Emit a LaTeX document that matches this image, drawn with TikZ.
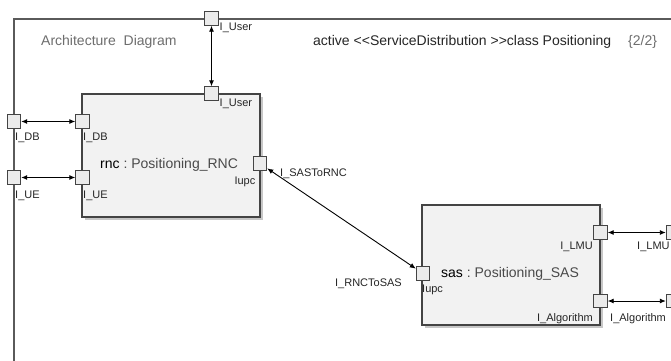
\documentclass[tikz,border=0pt]{standalone}
\usepackage{fontspec}
\setmainfont{Liberation Sans}[Ligatures=NoCommon]
\usetikzlibrary{arrows.meta,shadows}
\definecolor{framecol}{HTML}{5A5A5A}
\definecolor{boxfill}{HTML}{F2F2F2}
\definecolor{portfill}{HTML}{EBEBEB}
\definecolor{boxline}{HTML}{444444}
\definecolor{titlegray}{HTML}{6E6E6E}
\definecolor{typegray}{HTML}{4A4A4A}
\begin{document}
\begin{tikzpicture}[x=1pt,y=-1pt,
  framepath/.style={draw=framecol,line width=1.2pt},
  block/.style={draw=boxline,fill=boxfill,line width=1.1pt,inner sep=0pt,
    general shadow={fill=black!22,shadow xshift=2.5pt,shadow yshift=-2.5pt}},
  port/.style={draw=boxline,fill=portfill,line width=0.9pt,minimum size=13.5pt,inner sep=0pt},
  plabel/.style={font=\fontsize{11}{12}\selectfont,text=black!85,inner sep=0pt},
  bigtext/.style={font=\fontsize{14}{16}\selectfont,inner sep=0pt},
  conn/.style={draw=black,line width=0.9pt,{Latex[length=6pt,width=5pt]}-{Latex[length=6pt,width=5pt]}}
]
\useasboundingbox (0,0) rectangle (671,360);
\clip (0,0) rectangle (671,360);
\fill[white] (0,0) rectangle (671,360);
% frame
\draw[framepath] (14,400) -- (14,19) -- (700,19);
% titles
\node[bigtext,text=titlegray,anchor=base west] (title) at (41,45) {Architecture\ \ Diagram};
\node[bigtext,text=black!85,anchor=base west] (head) at (313,45) {active {<}{<}ServiceDistribution {>}{>}class Positioning};
\node[bigtext,text=titlegray,anchor=base west] (page) at (628,45) {\{2/2\}};
% blocks
\node[block,minimum width=178pt,minimum height=123pt] (rnc) at (171,155.5) {};
\node[block,minimum width=178pt,minimum height=120pt] (sas) at (511,265) {};
\node[bigtext,anchor=base west] (rnclabel) at (100,168) {\textcolor{black}{rnc}\ \textcolor{typegray}{:\ Positioning\_RNC}};
\node[bigtext,anchor=base west] (saslabel) at (441,277) {\textcolor{black}{sas}\ \textcolor{typegray}{:\ Positioning\_SAS}};
% frame ports
\node[port] (fUser) at (211.5,18.5) {};
\node[port] (fDB) at (14,121.5) {};
\node[port] (fUE) at (14,177.5) {};
\node[port] (fLMU) at (673,232.5) {};
\node[port] (fAlg) at (673,301) {};
% rnc ports
\node[port] (rUser) at (211.5,93.5) {};
\node[port] (rDB) at (82.5,121.5) {};
\node[port] (rUE) at (82.5,177.5) {};
\node[port] (rIupc) at (260,163.5) {};
% sas ports
\node[port] (sIupc) at (423,273.5) {};
\node[port] (sLMU) at (600.5,232.5) {};
\node[port] (sAlg) at (600.5,301) {};
% connectors
\draw[conn] (fUser) -- (rUser);
\draw[conn] (fDB) -- (rDB);
\draw[conn] (fUE) -- (rUE);
\draw[conn] (rIupc) -- (sIupc);
\draw[conn] (sLMU) -- (fLMU);
\draw[conn] (sAlg) -- (fAlg);
% port labels
\node[plabel,anchor=base west] (lfUser) at (219.5,30.5) {I\_User};
\node[plabel,anchor=base west] (lrUser) at (219.5,106) {I\_User};
\node[plabel,anchor=base west] (lfDB) at (15,140) {I\_DB};
\node[plabel,anchor=base west] (lrDB) at (83,140) {I\_DB};
\node[plabel,anchor=base west] (lfUE) at (15,198) {I\_UE};
\node[plabel,anchor=base west] (lrUE) at (83,198) {I\_UE};
\node[plabel,anchor=base east] (lrIupc) at (255.5,184) {Iupc};
\node[plabel,anchor=base west] (lconn1) at (280,176) {I\_SASToRNC};
\node[plabel,anchor=base east] (lconn2) at (402,286) {I\_RNCToSAS};
\node[plabel,anchor=base west] (lsIupc) at (422,292) {Iupc};
\node[plabel,anchor=base east] (lsLMU) at (593,249) {I\_LMU};
\node[plabel,anchor=base west] (lfLMU) at (637,249) {I\_LMU};
\node[plabel,anchor=base east] (lsAlg) at (593,321) {I\_Algorithm};
\node[plabel,anchor=base west] (lfAlg) at (610,321) {I\_Algorithm};
\end{tikzpicture}
\end{document}
